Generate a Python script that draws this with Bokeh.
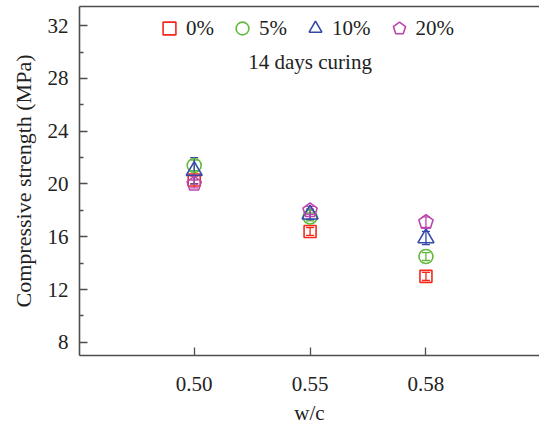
from bokeh.plotting import figure
from bokeh.models import (FixedTicker, LinearAxis, Legend, LegendItem, Label,
                          ColumnDataSource, Whisker, TeeHead, Range1d)
from bokeh.embed import file_html
from bokeh.resources import INLINE

categories = ["0.50", "0.55", "0.58"]
series_names = ["0%", "5%", "10%", "20%"]
values_0 = [20.3, 16.4, 13.0]
errors_0 = [0.3, 0.3, 0.3]
values_5 = [21.4, 17.5, 14.5]
errors_5 = [0.4, 0.3, 0.3]
values_10 = [21.0, 17.7, 15.9]
errors_10 = [1.0, 0.4, 0.5]
values_20 = [20.0, 18.0, 17.1]
errors_20 = [0.3, 0.3, 0.4]
y_ticks = [8, 12, 16, 20, 24, 28, 32]
y_minor = [10, 14, 18, 22, 26, 30]
annotation = "14 days curing"
x_title = "w/c"

FONT = "Times"
colors = ["#f5281c", "#62b93b", "#3549a8", "#bc46ad"]
markers = ["square", "circle", "triangle", "pentagon"]
sizes = [12, 14, 16, 8]

xpos = [i + 1 for i in range(len(categories))]

p = figure(width=539, height=428, output_backend="svg", toolbar_location=None,
           x_range=Range1d(0.01, 3.98), y_range=Range1d(7.0, 33.45),
           x_axis_location=None, y_axis_location=None,
           min_border_left=79, min_border_right=0, min_border_top=6,
           min_border_bottom=73, outline_line_color=None)
p.xgrid.visible = False
p.ygrid.visible = False
p.background_fill_color = "white"
p.border_fill_color = "white"

AX = "#4d4d4d"

yax = LinearAxis(ticker=FixedTicker(ticks=y_ticks, minor_ticks=y_minor),
                 axis_label="Compressive strength (MPa)")
xax = LinearAxis(ticker=FixedTicker(ticks=xpos, minor_ticks=[]),
                 axis_label=x_title,
                 major_label_overrides={x: c for x, c in zip(xpos, categories)})
top = LinearAxis(ticker=FixedTicker(ticks=[]), major_label_text_font_size="0px")
for ax in (yax, xax, top):
    ax.axis_line_color = AX
    ax.axis_line_width = 1.6
    ax.major_tick_line_color = AX
    ax.minor_tick_line_color = AX
    ax.major_tick_line_width = 1.3
    ax.minor_tick_line_width = 1.3
    ax.major_tick_in = 8
    ax.major_tick_out = 0
    ax.minor_tick_in = 4
    ax.minor_tick_out = 0
    ax.major_label_text_font = FONT
    ax.major_label_text_font_size = "21px"
    ax.major_label_text_color = "#222222"
    ax.axis_label_text_font = FONT
    ax.axis_label_text_font_size = "21px"
    ax.axis_label_text_font_style = "normal"
    ax.axis_label_text_color = "#222222"
yax.major_label_standoff = 11
yax.axis_label_standoff = 9
yax.axis_label_text_font_size = "22px"
xax.major_label_standoff = 21
xax.axis_label_standoff = 7
top.major_label_standoff = 0
top.axis_label_standoff = 0
p.add_layout(yax, "left")
p.add_layout(xax, "below")
p.add_layout(top, "above")

all_vals = [values_0, values_5, values_10, values_20]
all_errs = [errors_0, errors_5, errors_10, errors_20]
items = []
for name, vals, errs, col, mk, sz in zip(series_names, all_vals, all_errs, colors, markers, sizes):
    src = ColumnDataSource(dict(x=xpos, y=vals,
                                lo=[v - e for v, e in zip(vals, errs)],
                                hi=[v + e for v, e in zip(vals, errs)]))
    w = Whisker(source=src, base="x", upper="hi", lower="lo", line_color=col,
                line_width=1.3,
                upper_head=TeeHead(size=8, line_color=col, line_width=1.3),
                lower_head=TeeHead(size=8, line_color=col, line_width=1.3))
    p.add_layout(w)
    if mk == "pentagon":
        r = p.ngon(x="x", y="y", radius=7.5, radius_units="screen", n=5,
                   angle=0, source=src, fill_color=None,
                   line_color=col, line_width=1.6)
    else:
        r = p.scatter(x="x", y="y", marker=mk, size=sz, source=src,
                      fill_color=None, line_color=col, line_width=1.6)
    items.append(LegendItem(label=name, renderers=[r]))

legend = Legend(items=items, orientation="horizontal", location=(74, 311),
                glyph_width=32, glyph_height=32, label_standoff=1, spacing=12,
                padding=0, margin=0, border_line_color=None,
                background_fill_alpha=0,
                label_text_font=FONT, label_text_font_size="21px",
                label_text_color="#222222")
p.add_layout(legend)

lab = Label(x=xpos[1], y=29.25, text=annotation, text_align="center",
            text_baseline="middle", text_font=FONT, text_font_size="21px",
            text_color="#222222")
p.add_layout(lab)

open("out.html", "w").write(file_html(p, INLINE))
